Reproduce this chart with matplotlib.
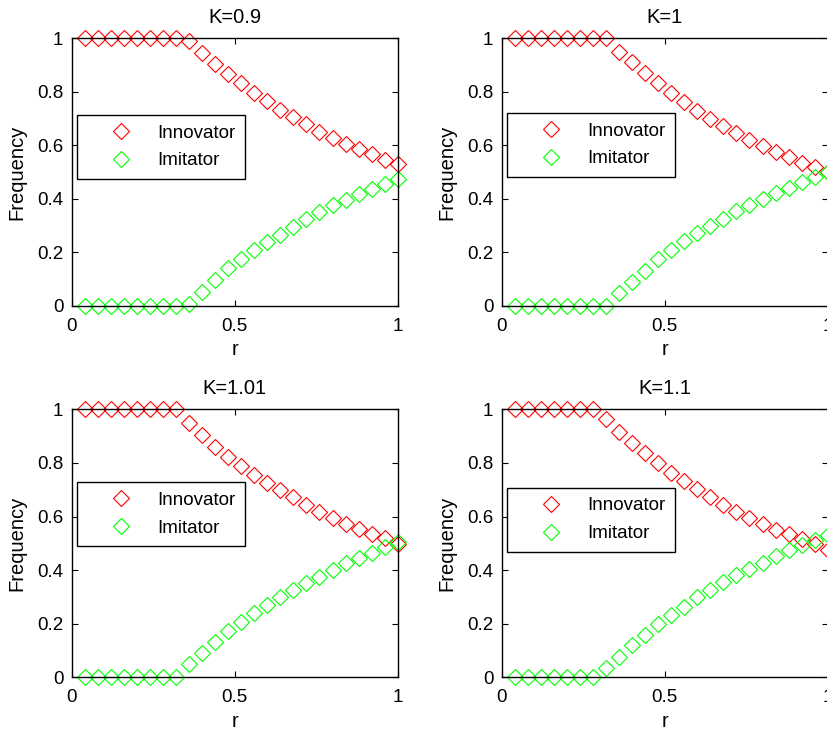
import matplotlib
matplotlib.use('Agg')
import matplotlib.pyplot as plt

plt.rcParams['font.family'] = ['Liberation Sans', 'DejaVu Sans']

# r values (x axis)
r = [0.04, 0.08, 0.12, 0.16, 0.20, 0.24, 0.28, 0.32, 0.36, 0.40, 0.44, 0.48, 0.52,
     0.56, 0.60, 0.64, 0.68, 0.72, 0.76, 0.80, 0.84, 0.88, 0.92, 0.96, 1.00]

titles = ['K=0.9', 'K=1', 'K=1.01', 'K=1.1']

# K=0.9
innov_09 = [1, 1, 1, 1, 1, 1, 1, 1, 0.99, 0.944, 0.903, 0.867, 0.832, 0.797, 0.766,
            0.732, 0.707, 0.678, 0.650, 0.628, 0.605, 0.585, 0.566, 0.545, 0.529]
imit_09 = [0, 0, 0, 0, 0, 0, 0, 0, 0.006, 0.052, 0.096, 0.14, 0.175, 0.208, 0.24,
           0.264, 0.295, 0.323, 0.349, 0.375, 0.395, 0.418, 0.435, 0.454, 0.473]

# K=1
innov_1 = [1, 1, 1, 1, 1, 1, 1, 1, 0.95, 0.91, 0.869, 0.832, 0.794, 0.761, 0.729,
           0.698, 0.672, 0.645, 0.620, 0.599, 0.575, 0.555, 0.535, 0.520, 0.501]
imit_1 = [0, 0, 0, 0, 0, 0, 0, 0, 0.046, 0.09, 0.131, 0.173, 0.208, 0.243, 0.271,
          0.299, 0.324, 0.355, 0.378, 0.398, 0.423, 0.442, 0.462, 0.483, 0.501]

# K=1.01
innov_101 = [1, 1, 1, 1, 1, 1, 1, 1, 0.948, 0.904, 0.861, 0.823, 0.789, 0.755, 0.726,
             0.699, 0.672, 0.643, 0.616, 0.593, 0.572, 0.552, 0.535, 0.519, 0.4975]
imit_101 = [0, 0, 0, 0, 0, 0, 0, 0, 0.05, 0.092, 0.133, 0.174, 0.208, 0.239, 0.27,
            0.299, 0.326, 0.353, 0.376, 0.40, 0.425, 0.444, 0.463, 0.485, 0.504]

# K=1.1
innov_11 = [1, 1, 1, 1, 1, 1, 1, 0.963, 0.917, 0.876, 0.838, 0.801, 0.764, 0.733, 0.701,
            0.672, 0.643, 0.618, 0.593, 0.572, 0.550, 0.534, 0.515, 0.497, 0.475]
imit_11 = [0, 0, 0, 0, 0, 0, 0, 0.034, 0.077, 0.121, 0.158, 0.198, 0.233, 0.264, 0.299,
           0.326, 0.355, 0.38, 0.405, 0.428, 0.452, 0.475, 0.494, 0.512, 0.531]

innov_all = [innov_09, innov_1, innov_101, innov_11]
imit_all = [imit_09, imit_1, imit_101, imit_11]

# axes boxes in pixels: left, top, right, bottom
W, H = 827, 731
boxes = [(71.7, 38.3, 397.7, 305.7), (501.7, 38.3, 827.7, 305.7),
         (71.7, 409.3, 397.7, 677.3), (501.7, 409.3, 827.7, 677.3)]
legend_tops = [0.713, 0.72, 0.727, 0.707]

fig = plt.figure(figsize=(W / 100, H / 100), dpi=100)
FS = 13.5
LFS = 14.5

for i in range(4):
    l, t, rr, b = boxes[i]
    ax = fig.add_axes([l / W, 1 - b / H, (rr - l) / W, (b - t) / H])
    ax.plot(r, innov_all[i], 'D', mfc='none', mec=(1, 0, 0), ms=8.5, mew=0.8,
            ls='none', clip_on=False, label='Innovator')
    ax.plot(r, imit_all[i], 'D', mfc='none', mec=(0, 1, 0), ms=8.5, mew=0.8,
            ls='none', clip_on=False, label='Imitator')
    ax.set_xlim(0, 1)
    ax.set_ylim(0, 1)
    ax.set_xticks([0, 0.5, 1])
    ax.set_xticklabels(['0', '0.5', '1'])
    ax.set_yticks([0, 0.2, 0.4, 0.6, 0.8, 1])
    ax.set_yticklabels(['0', '0.2', '0.4', '0.6', '0.8', '1'])
    ax.tick_params(direction='in', length=4, width=0.8, top=True, right=True,
                   labelsize=FS)
    ax.tick_params(axis='y', pad=6)
    ax.tick_params(axis='x', pad=8.5)
    for s in ax.spines.values():
        s.set_linewidth(1.0)
    ax.set_xlabel('r', fontsize=LFS, labelpad=4)
    ax.set_ylabel('Frequency', fontsize=LFS, labelpad=8)
    ax.set_title(titles[i], fontsize=LFS, pad=11)
    leg = ax.legend(loc='upper left', bbox_to_anchor=(0.017, legend_tops[i]),
                    borderaxespad=0, fontsize=FS, fancybox=False, frameon=True,
                    edgecolor='black', framealpha=1, borderpad=0.5,
                    handlelength=3.63, handletextpad=0.16, labelspacing=0.57,
                    markerscale=1.0)
    leg.get_frame().set_linewidth(1.0)

fig.savefig('out.png', dpi=100)
